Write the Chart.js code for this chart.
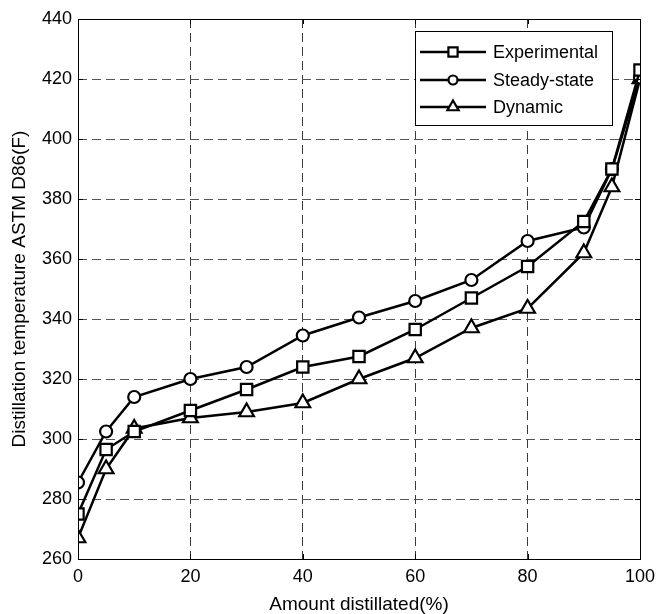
<!DOCTYPE html>
<html>
<head>
<meta charset="utf-8">
<script src="https://cdn.jsdelivr.net/npm/chart.js@4.4.0/dist/chart.umd.min.js"></script>
<style>
  html, body { margin: 0; padding: 0; background: #fff; }
  #wrap { width: 656px; height: 614px; }
</style>
</head>
<body>
<div id="wrap"><canvas id="chart" width="656" height="614"></canvas></div>
<script>
// data
const amount = [0, 5, 10, 20, 30, 40, 50, 60, 70, 80, 90, 95, 100];
const experimental = [275, 296.5, 302.5, 309.5, 316.5, 324, 327.5, 336.5, 347, 357.5, 372.5, 390, 423];
const steadyState = [285.5, 302.5, 314, 320, 324, 334.5, 340.5, 346, 353, 366, 370.5, 390, 420.5];
const dynamic = [267, 290, 303.5, 307, 309, 312, 320, 327, 337, 343.5, 362, 384, 420];
const seriesNames = ['Experimental', 'Steady-state', 'Dynamic'];
const xTicks = [0, 20, 40, 60, 80, 100];
const yTicks = [260, 280, 300, 320, 340, 360, 380, 400, 420, 440];

const FONT = 'Arial, "Liberation Sans", Helvetica, sans-serif';

const toPoints = (ys) => amount.map((x, i) => ({ x: x, y: ys[i] }));

const makeSet = (label, ys, style, r) => ({
    label: label,
    data: toPoints(ys),
    borderColor: '#000',
    borderWidth: 2.5,
    pointStyle: style,
    pointRadius: r,
    pointBorderWidth: 2.2,
    pointBackgroundColor: '#fff',
    pointBorderColor: '#000',
    fill: false,
    tension: 0
});

// box around the axes + inward tick marks (matlab style)
const framePlugin = {
    id: 'frame',
    afterDatasetsDraw(chart) {
        const { ctx, chartArea: a, scales } = chart;
        ctx.save();
        ctx.strokeStyle = '#000';
        ctx.lineWidth = 1;
        ctx.strokeRect(a.left + 0.5, a.top + 0.5, a.right - a.left, a.bottom - a.top);
        const len = 5;
        ctx.beginPath();
        xTicks.forEach(v => {
            const px = Math.round(scales.x.getPixelForValue(v)) + 0.5;
            ctx.moveTo(px, a.bottom); ctx.lineTo(px, a.bottom - len);
            ctx.moveTo(px, a.top); ctx.lineTo(px, a.top + len);
        });
        yTicks.forEach(v => {
            const py = Math.round(scales.y.getPixelForValue(v)) + 0.5;
            ctx.moveTo(a.left, py); ctx.lineTo(a.left + len, py);
            ctx.moveTo(a.right, py); ctx.lineTo(a.right - len, py);
        });
        ctx.stroke();
        ctx.restore();
    }
};

// legend box in the upper right of the axes
const legendBox = {
    id: 'legendBox',
    afterDatasetsDraw(chart) {
        const ctx = chart.ctx;
        const bx = 415, by = 31, bw = 197, bh = 94;
        ctx.save();
        ctx.fillStyle = '#fff';
        ctx.fillRect(bx, by, bw, bh);
        ctx.strokeStyle = '#000';
        ctx.lineWidth = 1;
        ctx.strokeRect(bx + 0.5, by + 0.5, bw, bh);
        const rows = [52, 80, 107];
        chart.data.datasets.forEach((ds, i) => {
            const y = rows[i];
            ctx.strokeStyle = '#000';
            ctx.lineWidth = 2.5;
            ctx.beginPath();
            ctx.moveTo(420, y);
            ctx.lineTo(486, y);
            ctx.stroke();
            ctx.fillStyle = '#fff';
            ctx.lineWidth = 2.2;
            Chart.helpers.drawPoint(ctx, {
                pointStyle: ds.pointStyle,
                radius: ds.pointStyle === 'circle' ? 4.5 : 6.5,
                rotation: 0,
                borderWidth: 2.2
            }, 453, y);
            ctx.fillStyle = '#000';
            ctx.font = '18px ' + FONT;
            ctx.textBaseline = 'middle';
            ctx.textAlign = 'left';
            ctx.fillText(ds.label, 493, y + 1);
        });
        ctx.restore();
    }
};

const chartEl = document.getElementById('chart');
new Chart(chartEl, {
    type: 'line',
    data: {
        datasets: [
            makeSet(seriesNames[0], experimental, 'rect', 8),
            makeSet(seriesNames[1], steadyState, 'circle', 6),
            makeSet(seriesNames[2], dynamic, 'triangle', 8.5)
        ]
    },
    options: {
        responsive: false,
        animation: false,
        layout: { padding: { top: 19, right: 16, left: 0, bottom: 0 } },
        plugins: {
            legend: { display: false },
            tooltip: { enabled: false }
        },
        scales: {
            x: {
                type: 'linear',
                min: 0,
                max: 100,
                afterBuildTicks: (s) => { s.ticks = xTicks.map(v => ({ value: v })); },
                afterFit: (s) => { s.height = 55; s.paddingLeft = 0; s.paddingRight = 0; },
                ticks: { color: '#000', font: { family: FONT, size: 18 }, padding: 7, maxRotation: 0 },
                grid: { color: '#3a3a3a', lineWidth: 1, drawTicks: false },
                border: { display: false, dash: [9, 5] },
                title: {
                    display: true,
                    text: 'Amount distillated(%)',
                    color: '#000',
                    font: { family: FONT, size: 19, lineHeight: 1 },
                    padding: { top: 0, bottom: 0 }
                }
            },
            y: {
                type: 'linear',
                min: 260,
                max: 440,
                afterBuildTicks: (s) => { s.ticks = yTicks.map(v => ({ value: v })); },
                afterFit: (s) => { s.width = 78; s.paddingTop = 0; s.paddingBottom = 0; },
                ticks: { color: '#000', font: { family: FONT, size: 18 }, padding: 6 },
                grid: { color: '#555', lineWidth: 1, drawTicks: false },
                border: { display: false, dash: [9, 5] },
                title: {
                    display: true,
                    text: 'Distillation temperature ASTM D86(F)',
                    color: '#000',
                    font: { family: FONT, size: 19, lineHeight: 1 },
                    padding: { top: 10, bottom: 0 }
                }
            }
        }
    },
    plugins: [framePlugin, legendBox]
});
</script>
</body>
</html>
